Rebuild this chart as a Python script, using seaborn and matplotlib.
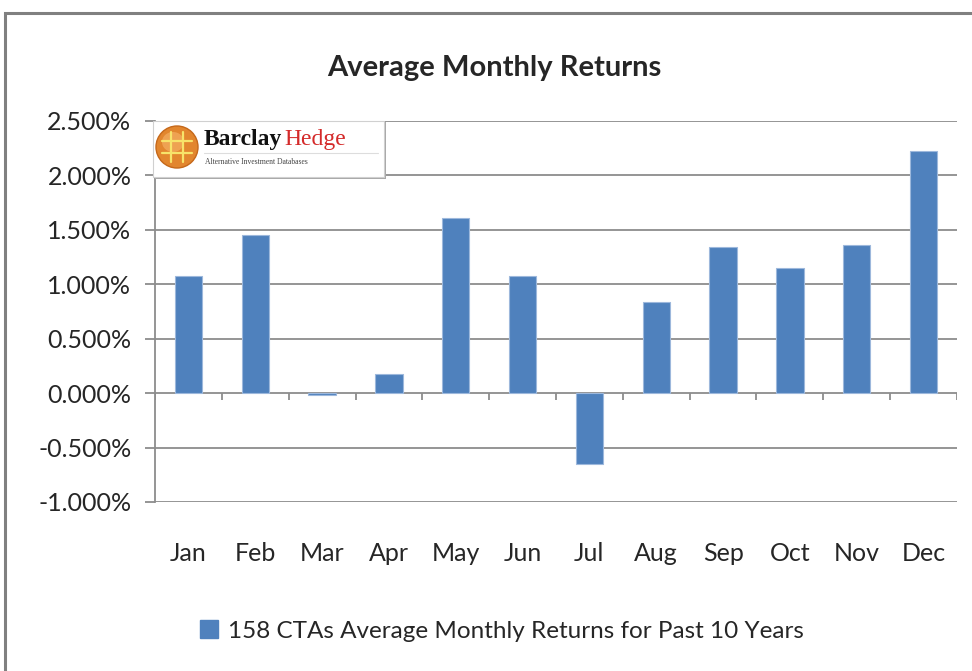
import numpy as np
import pandas as pd
import matplotlib
matplotlib.use("Agg")
import matplotlib.pyplot as plt
import seaborn as sns
from matplotlib.patches import Rectangle, Ellipse

months = ["Jan", "Feb", "Mar", "Apr", "May", "Jun", "Jul", "Aug", "Sep", "Oct", "Nov", "Dec"]
returns = [1.075, 1.45, -0.02, 0.18, 1.61, 1.075, -0.65, 0.84, 1.345, 1.15, 1.36, 2.225]
yticks = [-1.0, -0.5, 0.0, 0.5, 1.0, 1.5, 2.0, 2.5]
series_name = "158 CTAs Average Monthly Returns for Past 10 Years"

sns.set_style("white")
plt.rcParams["font.family"] = ["Lato", "DejaVu Sans"]

df = pd.DataFrame({"month": months, "ret": returns})

W, H = 972, 671
fig = plt.figure(figsize=(W/100, H/100), dpi=100)
ax = fig.add_axes([155/W, 1-502/H, (957-155)/W, (502-121)/H])

sns.barplot(data=df, x="month", y="ret", color="#4F81BD", width=0.41,
            edgecolor="#9DB8DC", linewidth=0.8, saturation=1, ax=ax, zorder=3)

ax.set_ylim(-1.0, 2.5)
ax.set_xlim(-0.5, len(months) - 0.5)
ax.set_yticks(yticks)
ax.set_yticklabels([f"{v:.3f}%" for v in yticks], fontsize=18)
for v in yticks:
    ax.axhline(v, color="#8C8C8C", lw=1.3, zorder=1)

# category axis sits at zero with tick marks between the months
edges = np.arange(len(months) + 1) - 0.5
ax.vlines(edges, -0.06, 0, color="#8C8C8C", lw=1.3, zorder=2)
ax.set_xticks(range(len(months)))
ax.set_xticklabels(months, fontsize=18)
ax.tick_params(axis="x", length=0, pad=29)
ax.tick_params(axis="y", length=7, width=1.3, color="#8C8C8C", left=True, pad=10)
ax.set_xlabel("")
ax.set_ylabel("")

for s in ["top", "right", "bottom"]:
    ax.spines[s].set_visible(False)
ax.spines["left"].set_color("#8C8C8C")
ax.spines["left"].set_linewidth(1.3)

fig.text(494/W, 1-68/H, "Average Monthly Returns", ha="center", va="center",
         fontsize=21, fontweight="bold")

# legend
handle = Rectangle((0, 0), 1, 1, color="#4F81BD")
fig.legend([handle], [series_name], loc="center", bbox_to_anchor=(0.516, 1-631/H),
           frameon=False, fontsize=17.5, handlelength=0.75, handleheight=0.75,
           handletextpad=0.4)

# outer chart border
fig.patches.append(Rectangle((5/W, -0.02), 1.1, 1-13/H+0.02, transform=fig.transFigure,
                             fill=False, edgecolor="#808080", lw=2.2))

# BarclayHedge logo box
fig.patches.append(Rectangle((155/W, 1-179/H), 231/W, 57/H, transform=fig.transFigure,
                             facecolor="#A8A8A8", edgecolor="none", zorder=5))
fig.patches.append(Rectangle((153/W, 1-177/H), 231/W, 56/H, transform=fig.transFigure,
                             facecolor="white", edgecolor="#D0D0D0", lw=0.8, zorder=6))
cx, cy, r = 177, 147, 21
fig.patches.append(Ellipse((cx/W, 1-cy/H), 2*r/W, 2*r/H, transform=fig.transFigure,
                           facecolor="#E2862E", edgecolor="#C5681A", lw=1, zorder=7))
fig.patches.append(Ellipse(((cx-4)/W, 1-(cy-5)/H), 22/W, 20/H, transform=fig.transFigure,
                           facecolor="#F2AA5C", edgecolor="none", alpha=0.8, zorder=7))
for d in (-6, 6):
    fig.add_artist(plt.Line2D([(cx+d)/W, (cx+d)/W], [1-(cy-15)/H, 1-(cy+15)/H],
                              color="#F7E36A", lw=1.6, zorder=8))
    fig.add_artist(plt.Line2D([(cx-15)/W, (cx+15)/W], [1-(cy+d)/H, 1-(cy+d)/H],
                              color="#F7E36A", lw=1.6, zorder=8))
fig.text(204/W, 1-140/H, "Barclay", fontsize=17, fontweight="bold",
         family="Liberation Serif", color="#111111", va="center", zorder=8)
fig.text(284/W, 1-140/H, "Hedge", fontsize=17, family="Liberation Serif",
         color="#D42A2A", va="center", zorder=8)
fig.add_artist(plt.Line2D([204/W, 378/W], [1-153/H, 1-153/H], color="#DDDDDD", lw=0.8, zorder=8))
fig.text(205/W, 1-162/H, "Alternative Investment Databases", fontsize=5.5,
         family="Liberation Serif", color="#444444", va="center", zorder=8)

fig.savefig("out.png", dpi=100)
